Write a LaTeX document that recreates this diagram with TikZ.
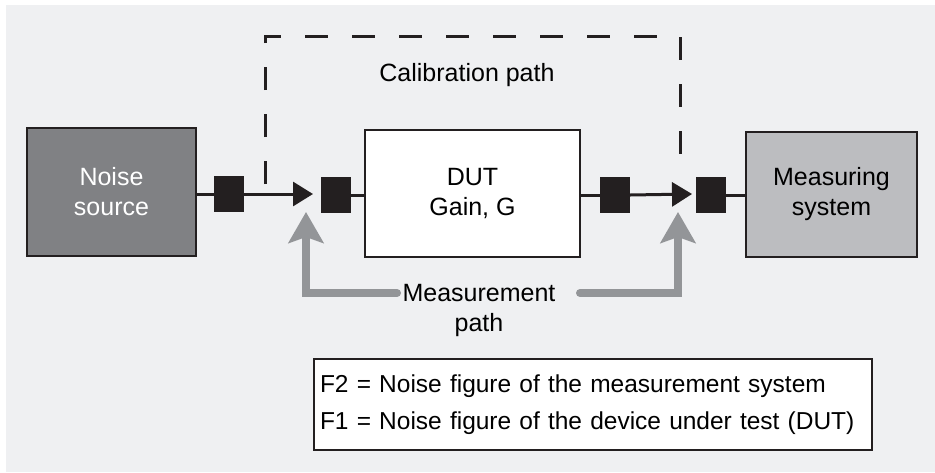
\documentclass[tikz,border=0pt]{standalone}
\usepackage{fontspec}
\setmainfont{Liberation Sans}
\usepackage{xcolor}
\usetikzlibrary{arrows.meta}
\definecolor{bg}{HTML}{EFF0F2}
\definecolor{ink}{HTML}{231F20}
\definecolor{srcgray}{HTML}{808184}
\definecolor{msgray}{HTML}{BCBDC0}
\definecolor{pathgray}{HTML}{939598}

\begin{document}
\begin{tikzpicture}[x=1pt,y=-1pt,
every node/.style={font=\fontsize{25}{30}\selectfont},
blk/.style={draw=ink,line width=2.5pt,minimum width=169pt,minimum height=126pt,align=center,inner sep=0pt},
port/.style={fill=ink,minimum width=30pt,minimum height=36pt,inner sep=0pt},
wire/.style={draw=ink,line width=3pt},
gpath/.style={draw=pathgray,line width=8pt,line cap=round}]
\useasboundingbox (0,0) rectangle (935,472);
\fill[bg] (6,5) rectangle (935,472);
% blocks
\node[blk,fill=srcgray,text=white,minimum height=128pt] (src) at (111.5,192) {Noise\\source};
\node[blk,fill=white,minimum width=215pt,minimum height=127pt] (dut) at (472.5,193.5) {DUT\\Gain, G};
\node[blk,fill=msgray,minimum width=171pt,minimum height=125pt] (ms) at (831.5,194.5) {Measuring\\system};
\node[port] (p1) at (229,194) {};
\node[port] (p2) at (336,195) {};
\node[port] (p3) at (615,195) {};
\node[port] (p4) at (711,195) {};
\coordinate (t1) at (313,194);
\coordinate (t2) at (692,194);
\draw[wire] (src.east|-p1) -- (p1.west);
\draw[wire,-{Triangle[length=20pt,width=24pt]}] (p1.east) -- (t1);
\draw[wire] (p2.east) -- (dut.west|-p2);
\draw[wire] (dut.east|-p3) -- (p3.west);
\draw[wire,-{Triangle[length=20pt,width=24pt]}] (p3.east) -- (t2);
\draw[wire] (p4.east) -- (ms.west|-p4);
% calibration path
\coordinate (c1) at (265,184);
\coordinate (c2) at (680,175);
\draw[ink,line width=3pt,dash pattern=on 23pt off 24pt] (c1) -- (265,36) -- (680,36) -- (c2);
\node (cal) at (467,75) {Calibration path};
% measurement path
\node[align=center] (mpath) at (479,310) {Measurement\\path};
\coordinate (mL) at (397,293);
\coordinate (mR) at (580,293);
\coordinate (a1) at (306,212);
\coordinate (a2) at (678,212);
\draw[gpath,-{Stealth[length=31pt,width=35pt,inset=6pt]}] (mL) -| (a1);
\draw[gpath,-{Stealth[length=31pt,width=35pt,inset=6pt]}] (mR) -| (a2);
\node[draw=ink,line width=2pt,fill=white,minimum width=558pt,minimum height=91pt,text width=546pt,
align=left,inner xsep=6pt,font=\fontsize{24.5}{37}\selectfont] (key) at (593,404.5)
{F2 = Noise figure of the measurement system\\F1 = Noise figure of the device under test (DUT)};
\end{tikzpicture}
\end{document}
